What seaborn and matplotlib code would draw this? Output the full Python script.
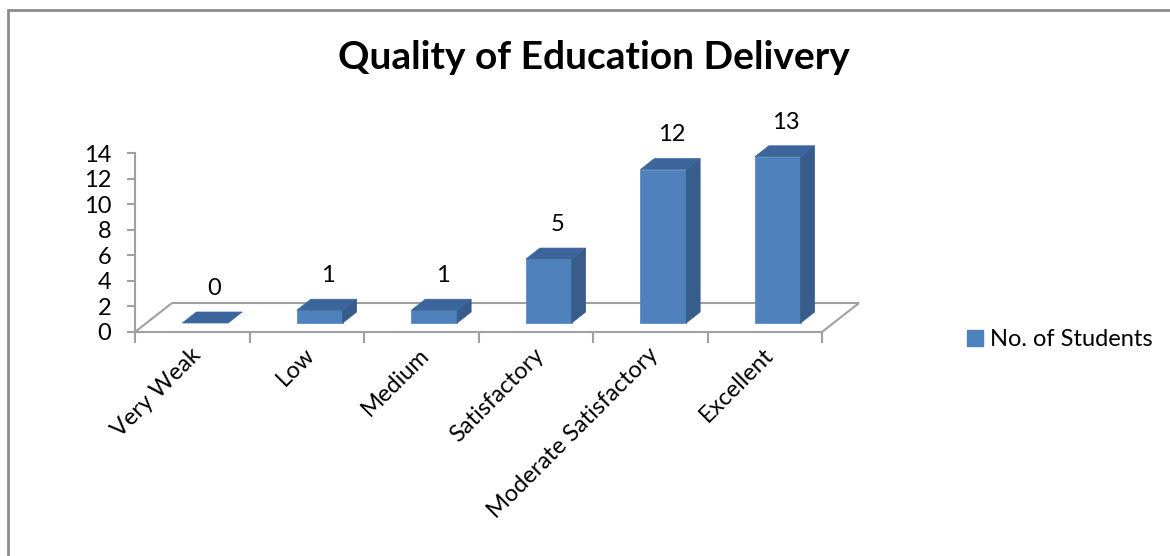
import matplotlib
matplotlib.use("Agg")
import matplotlib.pyplot as plt
import seaborn as sns
from matplotlib.patches import Polygon, Patch, Rectangle
from matplotlib.transforms import Affine2D

categories = ["Very Weak", "Low", "Medium", "Satisfactory", "Moderate Satisfactory", "Excellent"]
values = [0, 1, 1, 5, 12, 13]
series_name = "No. of Students"
title = "Quality of Education Delivery"
yticks = [0, 2, 4, 6, 8, 10, 12, 14]

FRONT = "#4F81BD"
SIDE = "#385D8A"
TOP = "#3C659C"
GRID = "#A0A0A0"
FS = 17

sns.set_style("white")
plt.rcParams["font.family"] = ["Lato", "DejaVu Sans"]
plt.rcParams["text.color"] = "black"

W, H = 1170, 556
fig = plt.figure(figsize=(W / 100, H / 100), dpi=100)
x0p, x1p = 135, 822
ytop, ybot = 153, 332
ax = fig.add_axes([x0p / W, 1 - ybot / H, (x1p - x0p) / W, (ybot - ytop) / H])
ax.set_facecolor("none")

sns.barplot(x=categories, y=values, color=FRONT, width=0.4, saturation=1, ax=ax, zorder=3)
ax.set_xlim(-0.5, len(categories) - 0.5)
ax.set_ylim(0, 14)

ppx = (x1p - x0p) / len(categories)
ppy = (ybot - ytop) / 14.0

def px2dx(p):
    return p / ppx

def px2dy(p):
    return p / ppy

shift_x, shift_y = px2dx(13), px2dy(9)
depth_x, depth_y = px2dx(14), px2dy(11)
floor_x, floor_y = px2dx(37), px2dy(29)

fl = dict(color=GRID, lw=1.5, clip_on=False, zorder=1, solid_capstyle="butt")
ax.plot([-0.5, -0.5 + floor_x], [0, floor_y], **fl)
ax.plot([-0.5 + floor_x, 5.5 + floor_x], [floor_y, floor_y], **fl)
ax.plot([5.5 + floor_x, 5.5], [floor_y, 0], **fl)

for patch, v in zip(ax.patches, values):
    bx0 = patch.get_x() + shift_x
    bx1 = bx0 + patch.get_width()
    yb = shift_y
    yt = shift_y + v
    patch.set_visible(False)
    if v > 0:
        ax.add_patch(Polygon([(bx0, yb), (bx1, yb), (bx1, yt), (bx0, yt)], closed=True,
                             facecolor=FRONT, edgecolor=FRONT, lw=0.5, zorder=3, clip_on=False))
        ax.add_patch(Polygon([(bx1, yb), (bx1 + depth_x, yb + depth_y), (bx1 + depth_x, yt + depth_y), (bx1, yt)],
                             closed=True, facecolor=SIDE, edgecolor=SIDE, lw=0.5, zorder=3, clip_on=False))
    ax.add_patch(Polygon([(bx0, yt), (bx1, yt), (bx1 + depth_x, yt + depth_y), (bx0 + depth_x, yt + depth_y)],
                         closed=True, facecolor=TOP, edgecolor=TOP, lw=0.5, zorder=3, clip_on=False))
    ax.annotate(str(v), xy=((bx0 + bx1) / 2 + depth_x / 2, yt + depth_y), xytext=(1, 17),
                textcoords="offset points", ha="center", va="center", fontsize=FS, color="black",
                annotation_clip=False)

for s in ["top", "right"]:
    ax.spines[s].set_visible(False)
for s in ["left", "bottom"]:
    ax.spines[s].set_color(GRID)
    ax.spines[s].set_linewidth(1.5)
ax.set_yticks(yticks)
ax.set_yticklabels([str(t) for t in yticks])
ax.tick_params(axis="y", length=6, width=1.5, color=GRID, pad=11, labelsize=FS, labelcolor="black", left=True)
ax.set_xticks(range(len(categories)))
ax.set_xticklabels(categories, rotation=45, ha="right", va="center", rotation_mode="anchor")
ax.set_xticks([i - 0.5 for i in range(len(categories) + 1)], minor=True)
ax.tick_params(axis="x", which="major", length=0, pad=14, labelsize=FS, labelcolor="black")
ax.tick_params(axis="x", which="minor", length=8, width=1.5, color=GRID, bottom=True)
for lab in ax.get_xticklabels():
    lab.set_transform(lab.get_transform() + Affine2D().translate(5, 0))
ax.set_xlabel("")
ax.set_ylabel("")

fig.text(594 / W, 1 - 69 / H, title, ha="center", va="baseline", fontsize=28, fontweight="bold",
         color="black")

fig.legend(handles=[Patch(facecolor=FRONT, edgecolor=FRONT, label=series_name)],
           loc="center left", bbox_to_anchor=(946 / W, 1 - 340 / H), frameon=False,
           fontsize=FS, handlelength=0.65, handleheight=0.65, handletextpad=0.3)

fig.add_artist(Rectangle((8 / W, -0.1), 1.2, 1 - 10 / H + 0.1, transform=fig.transFigure,
                         fill=False, edgecolor="#8C8C8C", lw=2))

fig.savefig("out.png", dpi=100)
